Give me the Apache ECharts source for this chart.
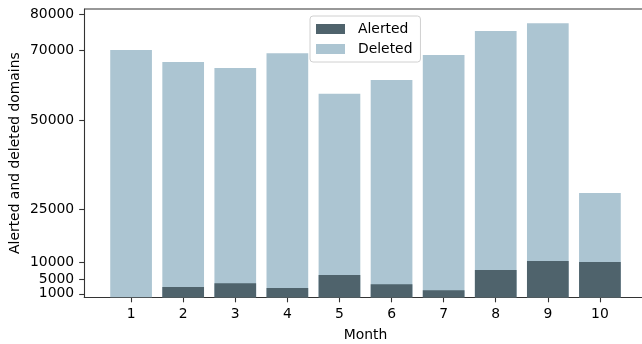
<!DOCTYPE html>
<html>
<head>
<meta charset="utf-8">
<script src="https://cdn.jsdelivr.net/npm/echarts@6/dist/echarts.min.js"></script>
<style>
  html, body { margin: 0; padding: 0; background: #fff; }
  #chart { width: 642px; height: 344px; }
</style>
</head>
<body>
<div id="chart"></div>
<script>
// Monthly counts of alerted and deleted domains (deleted stacked on alerted)
const months = [1, 2, 3, 4, 5, 6, 7, 8, 9, 10];
const alerted = [0, 2900, 4000, 2600, 6300, 3700, 2000, 7700, 10250, 10000];
const deleted = [70000, 63700, 60900, 66500, 51300, 57800, 66600, 67700, 67350, 19500];
const yTicks = [1000, 5000, 10000, 25000, 50000, 70000, 80000];

const FONT = 'DejaVu Sans';
const FS = 13.9;

const chart = echarts.init(document.getElementById('chart'), null, { renderer: 'canvas' });

// Deleted bars sit on top of the alerted ones: each spans [alerted, alerted + deleted].
const alertedPts = alerted.map((v, i) => [months[i], v]);
const deletedTops = deleted.map((v, i) => [months[i], alerted[i] + v]);

chart.setOption({
  animation: false,
  textStyle: { fontFamily: FONT, fontSize: FS, color: '#000' },
  grid: { left: 84.2, top: 9, width: 562.6, bottom: 46.7, containLabel: false, outerBoundsMode: 'none' },
  legend: {
    left: 310, top: 16,
    orient: 'vertical',
    itemWidth: 29, itemHeight: 10, itemGap: 6,
    padding: [6, 8, 6, 6],
    backgroundColor: 'rgba(255,255,255,0.8)',
    borderColor: '#d0d0d0', borderWidth: 1, borderRadius: 3,
    textStyle: { fontFamily: FONT, fontSize: FS, color: '#000', padding: [0, 0, 0, 8] },
    data: ['Alerted', 'Deleted'],
    icon: 'rect'
  },
  xAxis: {
    type: 'value',
    min: 0.1, max: 10.9,
    name: 'Month', nameLocation: 'middle', nameGap: 31, nameMoveOverlap: false,
    nameTextStyle: { fontFamily: FONT, fontSize: FS, color: '#000' },
    axisLine: { show: true, lineStyle: { color: '#333', width: 1.1 } },
    axisTick: { show: true, length: 5, customValues: months, lineStyle: { color: '#333', width: 1.1 } },
    axisLabel: { customValues: months, margin: 10, fontFamily: FONT, fontSize: FS, color: '#000',
                 formatter: v => String(v) },
    splitLine: { show: false }
  },
  yAxis: {
    type: 'value',
    min: 0, max: 81600,
    name: 'Alerted and deleted domains', nameLocation: 'middle', nameGap: 62, nameMoveOverlap: false,
    nameTextStyle: { fontFamily: FONT, fontSize: FS, color: '#000' },
    axisLine: { show: true, lineStyle: { color: '#333', width: 1.1 } },
    axisTick: { show: true, length: 5, customValues: yTicks, lineStyle: { color: '#333', width: 1.1 } },
    axisLabel: { customValues: yTicks, margin: 10, fontFamily: FONT, fontSize: FS, color: '#000',
                 formatter: v => String(v) },
    splitLine: { show: false }
  },
  graphic: [{
    // top frame edge
    type: 'line', silent: true,
    shape: { x1: 84.2, y1: 9, x2: 642, y2: 9 },
    style: { stroke: '#333', lineWidth: 1.1 }
  }],
  series: [
    {
      name: 'Deleted', type: 'bar',
      barWidth: 41.7, barGap: '-100%',
      itemStyle: { color: '#acc5d2' },
      data: deletedTops
    },
    {
      name: 'Alerted', type: 'bar',
      barWidth: 41.7, barGap: '-100%',
      itemStyle: { color: '#4f636c' },
      data: alertedPts
    }
  ]
});
</script>
</body>
</html>
